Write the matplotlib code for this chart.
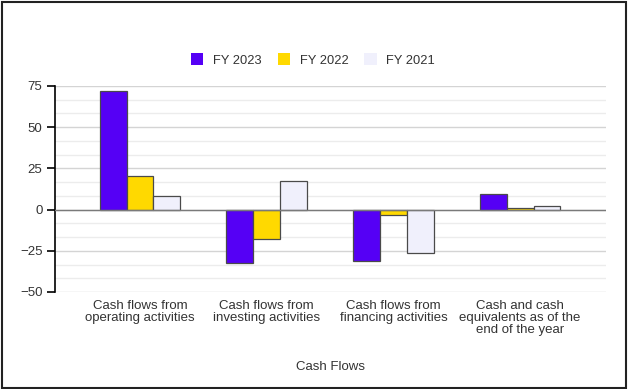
import matplotlib
matplotlib.use("Agg")
import matplotlib.pyplot as plt
from matplotlib.ticker import MultipleLocator
from matplotlib.patches import Rectangle
import numpy as np

plt.rcParams['font.family'] = ['Liberation Sans', 'DejaVu Sans']

categories = ["Cash flows from\noperating activities",
              "Cash flows from\ninvesting activities",
              "Cash flows from\nfinancing activities",
              "Cash and cash\nequivalents as of the\nend of the year"]
series_names = ["FY 2023", "FY 2022", "FY 2021"]
fy2023 = [72.2, -32.3, -31.3, 9.5]
fy2022 = [20.2, -18.1, -3.4, 0.8]
fy2021 = [8.0, 17.4, -26.6, 2.2]
colors = ["#5500F5", "#FFD900", "#F0F0FC"]
y_ticks = [-50, -25, 0, 25, 50, 75]

W, H = 628, 389
fig = plt.figure(figsize=(W / 100, H / 100), dpi=100)
fig.patch.set_facecolor("white")
fig.add_artist(Rectangle((1.5 / W, 1.5 / H), (W - 3.5) / W, (H - 3.5) / H,
                         transform=fig.transFigure, fill=False,
                         edgecolor="#222222", linewidth=1.5))

ax = fig.add_axes([55 / W, (H - 292) / H, (606 - 55) / W, (292 - 86) / H])
x = np.arange(len(categories))
bw = 0.212
for i, (vals, name, c) in enumerate(zip([fy2023, fy2022, fy2021], series_names, colors)):
    ax.bar(x + (i - 1) * bw, vals, width=bw, color=c, edgecolor="#4a4a4a",
           linewidth=0.9, label=name, zorder=3)

ax.set_ylim(-50, 75)
ax.set_xlim((55 - 140) / 126.7, (606 - 140) / 126.7)
ax.set_yticks(y_ticks)
ax.yaxis.set_minor_locator(MultipleLocator(25 / 3))
ax.grid(axis="y", which="major", color="#d4d4d4", linewidth=1.0, zorder=0)
ax.grid(axis="y", which="minor", color="#ececec", linewidth=1.0, zorder=0)
ax.axhline(0, color="#7a7a7a", linewidth=1.0, zorder=4)
for s in ["top", "right", "bottom"]:
    ax.spines[s].set_visible(False)
ax.spines["left"].set_color("black")
ax.spines["left"].set_linewidth(1.2)
ax.tick_params(axis="y", which="major", length=6, width=1.2, color="black",
               labelsize=9.5, labelcolor="#333333", pad=3)
ax.tick_params(axis="y", which="minor", length=0, width=0)
ax.set_xticks(x)
ax.set_xticklabels(categories, fontsize=9.5, color="#333333", linespacing=1.0)
ax.tick_params(axis="x", length=0, pad=6)
ax.set_xlabel("Cash Flows", fontsize=9.5, color="#333333", labelpad=18)

handles, labels = ax.get_legend_handles_labels()
leg = fig.legend(handles, labels, loc="center", bbox_to_anchor=(313 / W, 1 - 60 / H),
                 ncol=3, frameon=False, fontsize=9.3, handlelength=0.95,
                 handleheight=0.95, columnspacing=1.25, handletextpad=0.75)
for h in leg.legend_handles:
    h.set_edgecolor("none")
for t in leg.get_texts():
    t.set_color("#333333")

fig.savefig("out.png", dpi=100)
